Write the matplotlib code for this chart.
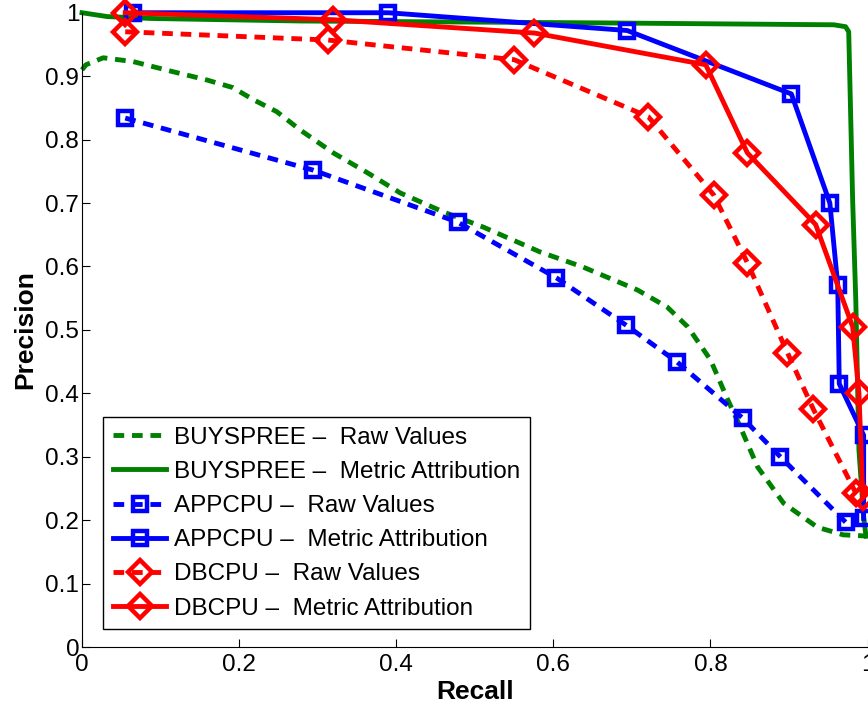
import numpy as np
import matplotlib
matplotlib.use('Agg')
import matplotlib.pyplot as plt

plt.rcParams['font.family'] = ['Liberation Sans', 'DejaVu Sans']

# BUYSPREE raw values (dense curve, no markers)
buy_raw_x = [0.0, 0.005, 0.027, 0.065, 0.116, 0.159, 0.192, 0.218, 0.248, 0.278, 0.320,
             0.363, 0.405, 0.460, 0.511, 0.583, 0.638, 0.707, 0.745, 0.771, 0.800,
             0.822, 0.838, 0.860, 0.893, 0.936, 0.969, 1.0]
buy_raw_y = [0.910, 0.918, 0.929, 0.923, 0.907, 0.894, 0.882, 0.863, 0.844, 0.815, 0.779,
             0.748, 0.716, 0.686, 0.662, 0.623, 0.599, 0.563, 0.536, 0.505, 0.453,
             0.390, 0.347, 0.284, 0.227, 0.189, 0.177, 0.175]

# BUYSPREE metric attribution
buy_ma_x = [0.0, 0.032, 0.087, 0.278, 0.66, 0.957, 0.972, 0.976, 0.981, 0.985, 0.989, 0.995, 0.998]
buy_ma_y = [1.0, 0.994, 0.991, 0.987, 0.984, 0.981, 0.978, 0.970, 0.705, 0.547, 0.311, 0.205, 0.175]

# APPCPU
app_raw_x = [0.055, 0.294, 0.478, 0.604, 0.692, 0.757, 0.841, 0.889, 0.972]
app_raw_y = [0.834, 0.752, 0.670, 0.582, 0.508, 0.450, 0.361, 0.300, 0.197]
app_ma_x = [0.065, 0.390, 0.694, 0.903, 0.952, 0.962, 0.964, 0.995, 0.995]
app_ma_y = [1.0, 1.0, 0.972, 0.872, 0.700, 0.571, 0.415, 0.334, 0.203]

# DBCPU
db_raw_x = [0.055, 0.313, 0.550, 0.721, 0.804, 0.847, 0.898, 0.931, 0.985]
db_raw_y = [0.970, 0.957, 0.926, 0.836, 0.713, 0.606, 0.464, 0.375, 0.243]
db_ma_x = [0.055, 0.320, 0.576, 0.794, 0.847, 0.934, 0.981, 0.989, 0.994]
db_ma_y = [1.0, 0.989, 0.968, 0.918, 0.779, 0.666, 0.505, 0.401, 0.237]

green = '#008000'
blue = '#0000ff'
red = '#ff0000'
lw = 3.5
dash = (2.2, 1.6)

fig = plt.figure(figsize=(8.68, 7.08), dpi=100)
ax = fig.add_axes([0.0945, 0.086, 0.905, 0.896])

ax.plot(buy_raw_x, buy_raw_y, color=green, lw=lw, dashes=dash, clip_on=False,
        label='BUYSPREE \u2013  Raw Values')
ax.plot(buy_ma_x, buy_ma_y, color=green, lw=lw, clip_on=False,
        label='BUYSPREE \u2013  Metric Attribution')
ax.plot(app_raw_x, app_raw_y, color=blue, lw=lw, dashes=dash, marker='s', ms=10,
        mfc='none', mew=3.2, clip_on=False, label='APPCPU \u2013  Raw Values')
ax.plot(app_ma_x, app_ma_y, color=blue, lw=lw, marker='s', ms=10,
        mfc='none', mew=3.2, clip_on=False, label='APPCPU \u2013  Metric Attribution')
ax.plot(db_raw_x, db_raw_y, color=red, lw=lw, dashes=dash, marker='D', ms=12,
        mfc='none', mew=3.2, clip_on=False, label='DBCPU \u2013  Raw Values')
ax.plot(db_ma_x, db_ma_y, color=red, lw=lw, marker='D', ms=12,
        mfc='none', mew=3.2, clip_on=False, label='DBCPU \u2013  Metric Attribution')

ax.set_xlim(0, 1)
ax.set_ylim(0, 1)
ax.set_xticks(np.arange(0, 1.01, 0.2))
ax.set_xticklabels(['0', '0.2', '0.4', '0.6', '0.8', '1'])
ax.set_yticks(np.arange(0, 1.01, 0.1))
ax.set_yticklabels(['0', '0.1', '0.2', '0.3', '0.4', '0.5', '0.6', '0.7', '0.8', '0.9', '1'])
ax.tick_params(direction='in', length=6, width=0.8, labelsize=17.5)
ax.tick_params(axis='y', pad=2)
ax.tick_params(axis='x', pad=5)
ax.spines['top'].set_visible(False)
ax.spines['right'].set_visible(False)
ax.set_xlabel('Recall', fontsize=19, fontweight='bold', labelpad=3)
ax.set_ylabel('Precision', fontsize=19, fontweight='bold', labelpad=6)

leg = ax.legend(loc='lower left', bbox_to_anchor=(0.027, 0.028), borderaxespad=0,
                fontsize=17.5, fancybox=False, edgecolor='black', framealpha=1,
                handlelength=2.2, labelspacing=0.5, borderpad=0.4, handletextpad=0.3)
leg.get_frame().set_linewidth(1.0)

fig.savefig('out.png', dpi=100)
